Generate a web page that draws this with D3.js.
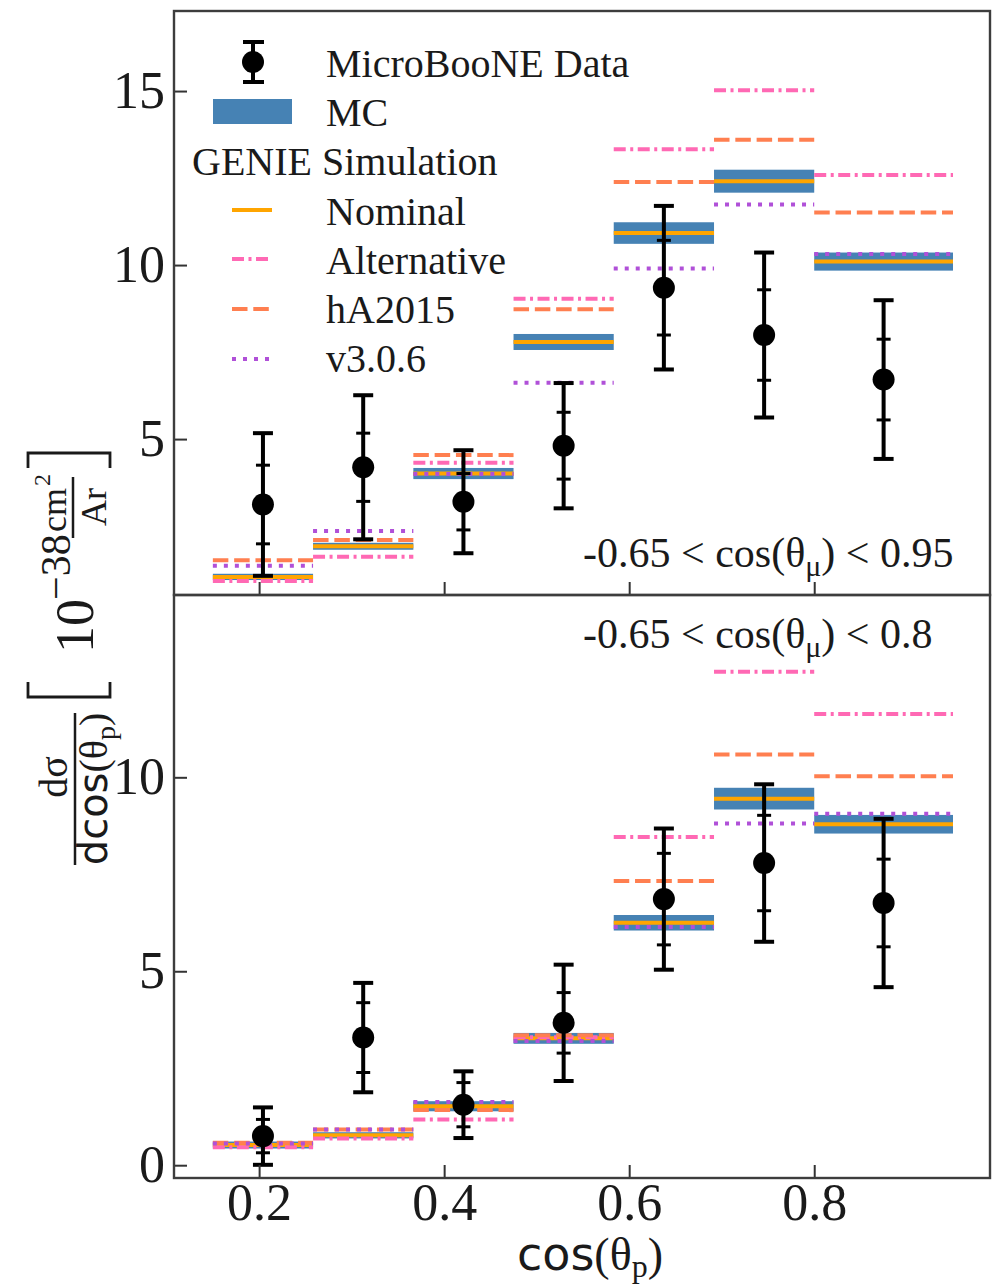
<!DOCTYPE html>
<html><head><meta charset="utf-8">
<script src="https://cdn.jsdelivr.net/npm/d3@7"></script>
<style>
html,body{margin:0;padding:0;background:#fff;}
svg{display:block;}
text{font-family:"Liberation Serif","Times New Roman",serif;fill:#1a1a1a;}
</style></head><body>
<svg id="chart" width="1000" height="1286"></svg>
<script>
// ---------------- data ----------------
const binEdges = [0.15, 0.2583, 0.3667, 0.475, 0.5833, 0.6917, 0.8, 0.95];
const xTicks = [0.2, 0.4, 0.6, 0.8];
const xTickLabels = ["0.2", "0.4", "0.6", "0.8"];
const topYTicks = [5, 10, 15];
const botYTicks = [0, 5, 10];

// upper panel: -0.65 < cos(theta_mu) < 0.95
const topData      = [3.12, 4.19, 3.20, 4.81, 9.35, 7.99, 6.71];
const topTotErr    = [2.05, 2.07, 1.48, 1.80, 2.35, 2.37, 2.28];
const topStatErr   = [1.13, 0.98, 0.81, 0.96, 1.36, 1.30, 1.16];
const topMC        = [1.04, 1.92, 4.01, 7.79, 10.92, 12.41, 10.10];
const topMCErr     = [0.09, 0.10, 0.16, 0.23, 0.31, 0.33, 0.26];
const topNominal   = [1.04, 1.92, 4.01, 7.79, 10.92, 12.41, 10.10];
const topAlternative = [0.92, 1.62, 4.32, 9.03, 13.33, 15.02, 12.59];
const topHA2015    = [1.52, 2.10, 4.54, 8.73, 12.39, 13.60, 11.51];
const topV306      = [1.36, 2.36, 4.00, 6.62, 9.90, 11.74, 10.32];

// lower panel: -0.65 < cos(theta_mu) < 0.8
const botData      = [0.75, 3.29, 1.56, 3.67, 6.86, 7.79, 6.76];
const botTotErr    = [0.74, 1.41, 0.86, 1.50, 1.82, 2.03, 2.17];
const botStatErr   = [0.43, 0.90, 0.57, 0.78, 1.18, 1.23, 1.13];
const botMC        = [0.52, 0.77, 1.52, 3.27, 6.25, 9.45, 8.79];
const botMCErr     = [0.09, 0.08, 0.13, 0.14, 0.20, 0.28, 0.24];
const botNominal   = [0.52, 0.77, 1.52, 3.27, 6.25, 9.45, 8.79];
const botAlternative = [0.46, 0.69, 1.18, 3.30, 8.46, 12.72, 11.63];
const botHA2015    = [0.58, 0.92, 1.42, 3.35, 7.33, 10.59, 10.03];
const botV306      = [0.56, 0.92, 1.63, 3.20, 6.14, 8.81, 9.06];

const legendLabels = ["MicroBooNE Data", "MC", "GENIE Simulation", "Nominal", "Alternative", "hA2015", "v3.0.6"];
const topAnnotation = ["-0.65 < cos(θ", "μ", ") < 0.95"];
const botAnnotation = ["-0.65 < cos(θ", "μ", ") < 0.8"];

// ---------------- styles ----------------
const C = {
  mc: "#4682b4", nominal: "#ffa500", alt: "#ff69b4", ha: "#ff7f50", v3: "#b050d8",
  frame: "#3d3d3d"
};
const styles = {
  nominal: {color: C.nominal, dash: null},
  alt: {color: C.alt, dash: "12 4.5 3 4.5"},
  ha: {color: C.ha, dash: "15.5 5.8"},
  v3: {color: C.v3, dash: "4 7"}
};
const LW = 4;

// ---------------- scales ----------------
const L = 174, R = 990, T = 11, MID = 595, B = 1178;
const x = d3.scaleLinear().domain([0.108, 0.99]).range([L, R]);
const yTop = d3.scaleLinear().domain([0.52, 17.3]).range([MID, T]);
const yBot = d3.scaleLinear().domain([-0.33, 14.7]).range([B, MID]);

const svg = d3.select("#chart");

function drawPanel(y, d) {
  const g = svg.append("g");
  const bins = d3.range(binEdges.length - 1);
  // MC band
  g.selectAll("rect.mc").data(bins).join("rect")
    .attr("x", i => x(binEdges[i])).attr("width", i => x(binEdges[i+1]) - x(binEdges[i]))
    .attr("y", i => y(d.mc[i] + d.mcErr[i]))
    .attr("height", i => y(d.mc[i] - d.mcErr[i]) - y(d.mc[i] + d.mcErr[i]))
    .attr("fill", C.mc);
  const series = [["nominal", d.nominal], ["alt", d.alt], ["ha", d.ha], ["v3", d.v3]];
  series.forEach(([k, vals]) => {
    g.selectAll("line." + k).data(bins).join("line")
      .attr("x1", i => x(binEdges[i])).attr("x2", i => x(binEdges[i+1]))
      .attr("y1", i => y(vals[i])).attr("y2", i => y(vals[i]))
      .attr("stroke", styles[k].color).attr("stroke-width", LW)
      .attr("stroke-dasharray", styles[k].dash);
  });
  // data
  const dg = g.selectAll("g.pt").data(bins).join("g")
    .attr("transform", i => `translate(${x((binEdges[i] + binEdges[i+1]) / 2)},0)`);
  dg.append("line").attr("x1", 0).attr("x2", 0)
    .attr("y1", i => y(d.data[i] + d.tot[i])).attr("y2", i => y(d.data[i] - d.tot[i]))
    .attr("stroke", "#000").attr("stroke-width", 4);
  [1, -1].forEach(s => {
    dg.append("line").attr("x1", -10).attr("x2", 10)
      .attr("y1", i => y(d.data[i] + s * d.tot[i])).attr("y2", i => y(d.data[i] + s * d.tot[i]))
      .attr("stroke", "#000").attr("stroke-width", 4);
    dg.append("line").attr("x1", -7).attr("x2", 7)
      .attr("y1", i => y(d.data[i] + s * d.stat[i])).attr("y2", i => y(d.data[i] + s * d.stat[i]))
      .attr("stroke", "#000").attr("stroke-width", 3);
  });
  dg.append("circle").attr("cx", 0).attr("cy", i => y(d.data[i])).attr("r", 11).attr("fill", "#000");
}

drawPanel(yTop, {data: topData, tot: topTotErr, stat: topStatErr, mc: topMC, mcErr: topMCErr,
  nominal: topNominal, alt: topAlternative, ha: topHA2015, v3: topV306});
drawPanel(yBot, {data: botData, tot: botTotErr, stat: botStatErr, mc: botMC, mcErr: botMCErr,
  nominal: botNominal, alt: botAlternative, ha: botHA2015, v3: botV306});

// ---------------- axes ----------------
function styleAxis(g) {
  g.select(".domain").remove();
  g.selectAll(".tick line").attr("stroke", "#333").attr("stroke-width", 2);
  g.selectAll(".tick text").attr("font-size", 52).attr("fill", "#1a1a1a")
    .attr("font-family", "Liberation Serif, Times New Roman, serif");
}
svg.append("g").attr("transform", `translate(${L},0)`)
  .call(d3.axisLeft(yTop).tickValues(topYTicks).tickSizeInner(-13).tickSizeOuter(0).tickPadding(9).tickFormat(d3.format("d")))
  .call(styleAxis);
svg.append("g").attr("transform", `translate(${L},0)`)
  .call(d3.axisLeft(yBot).tickValues(botYTicks).tickSizeInner(-13).tickSizeOuter(0).tickPadding(9).tickFormat(d3.format("d")))
  .call(styleAxis);
svg.append("g").attr("transform", `translate(0,${MID})`)
  .call(d3.axisBottom(x).tickValues(xTicks).tickSizeInner(-13).tickSizeOuter(0).tickFormat(""))
  .call(styleAxis);
svg.append("g").attr("transform", `translate(0,${B})`)
  .call(d3.axisBottom(x).tickValues(xTicks).tickSizeInner(-13).tickSizeOuter(0).tickPadding(5)
    .tickFormat((v, i) => xTickLabels[i]))
  .call(styleAxis);

// frames
[[T, MID], [MID, B]].forEach(([a, b]) => {
  svg.append("rect").attr("x", L).attr("y", a).attr("width", R - L).attr("height", b - a)
    .attr("fill", "none").attr("stroke", C.frame).attr("stroke-width", 2.4);
});

// ---------------- annotations ----------------
function annot(parts, xp, yp) {
  const t = svg.append("text").attr("x", xp).attr("y", yp).attr("font-size", 42);
  t.append("tspan").text(parts[0]);
  t.append("tspan").attr("dy", 9).attr("font-size", 30).text(parts[1]);
  t.append("tspan").attr("dy", -9).text(parts[2]);
}
annot(topAnnotation, 583, 567);
annot(botAnnotation, 583, 648);

// ---------------- legend ----------------
const lg = svg.append("g");
lg.append("line").attr("x1", 253).attr("x2", 253).attr("y1", 42).attr("y2", 82).attr("stroke", "#000").attr("stroke-width", 4);
[42, 82].forEach(yy => lg.append("line").attr("x1", 243).attr("x2", 264).attr("y1", yy).attr("y2", yy).attr("stroke", "#000").attr("stroke-width", 4));
lg.append("circle").attr("cx", 253).attr("cy", 62).attr("r", 11).attr("fill", "#000");
lg.append("rect").attr("x", 213).attr("y", 99).attr("width", 79).attr("height", 25).attr("fill", C.mc);
const legendLines = [["nominal", 210], ["alt", 259], ["ha", 309], ["v3", 359]];
legendLines.forEach(([k, yy]) => {
  lg.append("line").attr("x1", 232).attr("x2", 272).attr("y1", yy).attr("y2", yy)
    .attr("stroke", styles[k].color).attr("stroke-width", LW).attr("stroke-dasharray", styles[k].dash);
});
const legendText = [[326, 77], [326, 126], [192, 175], [326, 225], [326, 274], [326, 323], [326, 372]];
legendLabels.forEach((s, i) => {
  lg.append("text").attr("x", legendText[i][0]).attr("y", legendText[i][1]).attr("font-size", 40).text(s);
});

// ---------------- x label ----------------
const xl = svg.append("text").attr("x", 590).attr("y", 1270).attr("text-anchor", "middle").attr("font-size", 46);
xl.append("tspan").attr("font-family", "DejaVu Sans, sans-serif").text("cos");
xl.append("tspan").text("(θ");
xl.append("tspan").attr("dy", 7).attr("font-size", 32).text("p");
xl.append("tspan").attr("dy", -7).text(")");

// ---------------- y label (rotated) ----------------
const yl = svg.append("g").attr("transform", "rotate(-90)");
yl.append("text").attr("x", -777).attr("y", 67).attr("text-anchor", "middle").attr("font-size", 40).text("dσ");
yl.append("line").attr("x1", -865).attr("x2", -713).attr("y1", 75).attr("y2", 75).attr("stroke", "#1a1a1a").attr("stroke-width", 2.5);
const den = yl.append("text").attr("x", -789).attr("y", 107).attr("text-anchor", "middle").attr("font-size", 40);
den.append("tspan").attr("font-family", "DejaVu Sans, sans-serif").text("dcos");
den.append("tspan").text("(θ");
den.append("tspan").attr("dy", 8).attr("font-size", 28).text("p");
den.append("tspan").attr("dy", -8).text(")");
yl.append("text").attr("x", -653).attr("y", 93).attr("font-size", 54).text("10");
yl.append("text").attr("x", -600).attr("y", 70).attr("font-size", 42).text("−38");
yl.append("text").attr("x", -510).attr("y", 66).attr("text-anchor", "middle").attr("font-size", 36).text("cm");
yl.append("text").attr("x", -486).attr("y", 50).attr("font-size", 24).text("2");
yl.append("line").attr("x1", -538).attr("x2", -477).attr("y1", 73).attr("y2", 73).attr("stroke", "#1a1a1a").attr("stroke-width", 2.5);
yl.append("text").attr("x", -507).attr("y", 106).attr("text-anchor", "middle").attr("font-size", 36).text("Ar");
svg.append("path").attr("d", "M28,682 L28,697 L110,697 L110,682").attr("fill", "none").attr("stroke", "#1a1a1a").attr("stroke-width", 2.8);
svg.append("path").attr("d", "M28,468 L28,453 L110,453 L110,468").attr("fill", "none").attr("stroke", "#1a1a1a").attr("stroke-width", 2.8);
</script>
</body></html>
